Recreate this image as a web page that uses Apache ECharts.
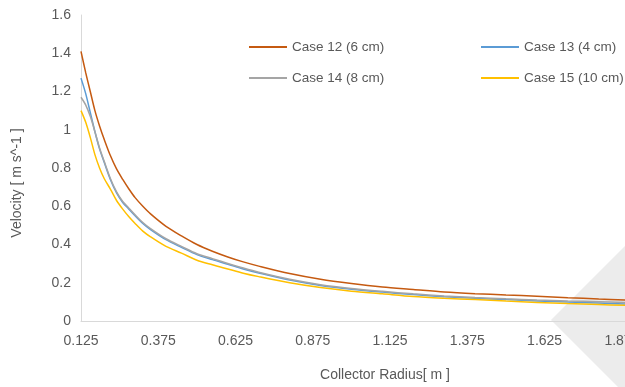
<!DOCTYPE html>
<html>
<head>
<meta charset="utf-8">
<script src="https://cdn.jsdelivr.net/npm/echarts@6/dist/echarts.min.js"></script>
<style>html,body{margin:0;padding:0;background:#fff}#c{width:625px;height:387px}</style>
</head>
<body>
<div id="c"></div>
<script>
var radius = [0.125,0.14,0.155,0.17,0.185,0.2,0.22,0.24,0.26,0.28,0.3,0.325,0.35,0.4,0.45,0.5,0.55,0.6,0.65,0.7,0.8,0.9,1.0,1.1,1.2,1.3,1.4,1.5,1.6,1.7,1.8,1.885];
var case12 = [1.41,1.30,1.20,1.10,1.02,0.95,0.865,0.795,0.74,0.69,0.645,0.60,0.56,0.495,0.445,0.40,0.365,0.335,0.309,0.287,0.248,0.218,0.196,0.178,0.165,0.152,0.143,0.136,0.130,0.122,0.115,0.11];
var case13 = [1.27,1.19,1.09,0.99,0.90,0.83,0.74,0.67,0.62,0.585,0.55,0.51,0.478,0.425,0.385,0.347,0.321,0.297,0.272,0.251,0.214,0.186,0.166,0.151,0.138,0.127,0.119,0.112,0.105,0.099,0.094,0.089];
var case14 = [1.17,1.13,1.07,0.99,0.905,0.835,0.745,0.675,0.625,0.59,0.555,0.515,0.483,0.43,0.39,0.352,0.326,0.301,0.277,0.255,0.218,0.19,0.17,0.155,0.142,0.131,0.123,0.116,0.110,0.105,0.101,0.097];
var case15 = [1.10,1.04,0.96,0.87,0.80,0.745,0.69,0.63,0.585,0.545,0.51,0.47,0.44,0.39,0.355,0.318,0.294,0.272,0.25,0.232,0.20,0.175,0.156,0.142,0.128,0.119,0.112,0.104,0.097,0.091,0.086,0.082];
var seriesNames = ['Case 12 (6 cm)','Case 13 (4 cm)','Case 14 (8 cm)','Case 15 (10 cm)'];
var seriesColors = ['#C55A11','#5B9BD5','#A5A5A5','#FFC000'];
var xTitle = 'Collector Radius[ m ]';
var yTitle = 'Velocity [ m s^-1 ]';

function pairs(vals){ return radius.map(function(r,i){ return [r, vals[i]]; }); }
var allVals = [case12, case13, case14, case15];
var FONT = 'Liberation Sans';
var TXT = '#595959';

var chart = echarts.init(document.getElementById('c'), null, {renderer:'canvas'});
var legendPos = [[249,40],[481,40],[249,71],[481,71]];
chart.setOption({
  animation:false,
  backgroundColor:'#fff',
  grid:{left:81,right:0,top:15,bottom:66,containLabel:false,outerBoundsMode:'none'},
  graphic:{z:-10,elements:[{type:'polygon',z:-10,silent:true,shape:{points:[[551,320],[625,246],[625,394]]},style:{fill:'#ececec'}}]},
  legend: seriesNames.map(function(n,i){
    return {data:[n],left:legendPos[i][0],top:legendPos[i][1],icon:'rect',itemWidth:38,itemHeight:2,itemGap:0,
      textStyle:{color:TXT,fontFamily:FONT,fontSize:13.5},padding:0};
  }),
  xAxis:{type:'value',min:0.125,max:1.885,interval:0.125,
    name:xTitle,nameLocation:'middle',nameGap:47,
    nameTextStyle:{color:TXT,fontFamily:FONT,fontSize:14,padding:[0,0,0,64]},
    axisLine:{show:true,lineStyle:{color:'#d9d9d9',width:1}},
    axisTick:{show:false},splitLine:{show:false},
    axisLabel:{color:TXT,fontFamily:FONT,fontSize:14,margin:13,showMaxLabel:true,showMinLabel:true,hideOverlap:false,
      formatter:function(v){ var k=(v-0.125)/0.25; if(Math.abs(k-Math.round(k))<1e-6) return v.toFixed(3); return ''; }}
  },
  yAxis:{type:'value',min:0,max:1.6,interval:0.2,
    name:yTitle,nameLocation:'middle',nameGap:57,nameRotate:90,
    nameTextStyle:{color:TXT,fontFamily:FONT,fontSize:14,padding:[0,30,0,0]},
    axisLine:{show:true,lineStyle:{color:'#d9d9d9',width:1}},
    axisTick:{show:false},splitLine:{show:false},
    axisLabel:{color:TXT,fontFamily:FONT,fontSize:14,margin:10,
      formatter:function(v){ return String(Math.round(v*10)/10); }}
  },
  series: seriesNames.map(function(n,i){
    return {name:n,type:'line',data:pairs(allVals[i]),showSymbol:false,symbol:'none',smooth:0.3,
      lineStyle:{color:seriesColors[i],width:1.5},itemStyle:{color:seriesColors[i]},z:2+i};
  })
});
</script>
</body>
</html>
